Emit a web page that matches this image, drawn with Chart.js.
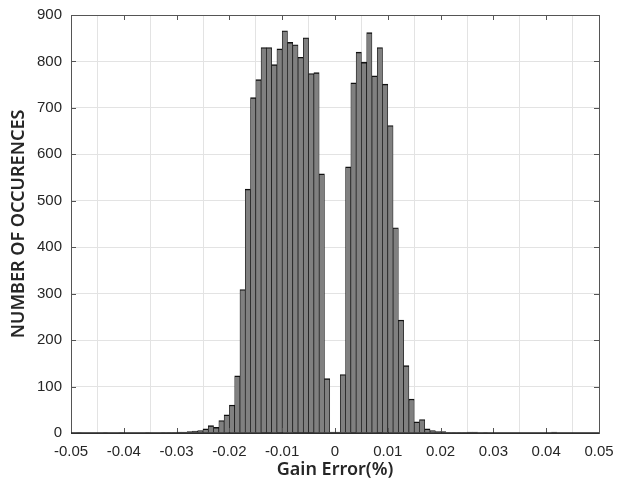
<!DOCTYPE html>
<html>
<head>
<meta charset="utf-8">
<script src="https://cdn.jsdelivr.net/npm/chart.js@4.4.1/dist/chart.umd.min.js"></script>
<style>
  html, body { margin: 0; padding: 0; background: #fff; }
  #wrap { width: 617px; height: 481px; }
</style>
</head>
<body>
<div id="wrap"><canvas id="chart"></canvas></div>
<script>
// histogram bins: left edge of the first bin and bin width (in %)
const binStart = -0.05
const binWidth = 0.001

// counts per bin (100 bins from -0.05 to 0.05)
const counts = [
  0, 1, 0, 0, 0, 0, 1, 0, 0, 1,
  0, 0, 0, 0, 1, 0, 0, 1, 1, 1,
  2, 2, 3, 4, 5, 9, 16, 12, 27, 39,
  60, 123, 309, 525, 722, 761, 830, 830, 793, 827,
  866, 841, 836, 809, 851, 774, 776, 558, 117, 2,
  2, 126, 573, 754, 820, 798, 862, 769, 830, 751,
  662, 442, 243, 145, 73, 24, 29, 9, 5, 3,
  3, 1, 1, 1, 1, 2, 2, 0, 1, 0,
  0, 0, 0, 0, 0, 0, 0, 0, 0, 0,
  0, 2, 0, 0, 0, 0, 0, 0, 0, 0
]

const xTicks = [-0.05, -0.04, -0.03, -0.02, -0.01, 0, 0.01, 0.02, 0.03, 0.04, 0.05]
const yTicks = [0, 100, 200, 300, 400, 500, 600, 700, 800, 900]

const points = counts.map((c, i) => ({ x: binStart + binWidth * (i + 0.5), y: c }))

const tickFont = { family: "'Liberation Sans', Arial, sans-serif", size: 15 }
const titleFont = { family: "'Noto Sans', sans-serif", size: 18, weight: "600" }

// box around the plot with inward ticks on all four sides
const frame = {
  id: "frame",
  afterDatasetsDraw(chart) {
    const { ctx, chartArea: a, scales: { x, y } } = chart
    const len = 5
    ctx.save()
    ctx.strokeStyle = "#555"
    ctx.lineWidth = 1
    ctx.beginPath()
    xTicks.forEach(v => {
      const px = Math.round(x.getPixelForValue(v)) + 0.5
      ctx.moveTo(px, a.bottom); ctx.lineTo(px, a.bottom - len)
      ctx.moveTo(px, a.top); ctx.lineTo(px, a.top + len)
    })
    yTicks.forEach(v => {
      const py = Math.round(y.getPixelForValue(v)) + 0.5
      ctx.moveTo(a.left, py); ctx.lineTo(a.left + len, py)
      ctx.moveTo(a.right, py); ctx.lineTo(a.right - len, py)
    })
    ctx.stroke()
    ctx.strokeRect(Math.round(a.left) + 0.5, Math.round(a.top) + 0.5,
      Math.round(a.right - a.left), Math.round(a.bottom - a.top))
    ctx.strokeStyle = "#222"
    ctx.lineWidth = 1.5
    ctx.beginPath()
    ctx.moveTo(a.left, a.bottom); ctx.lineTo(a.right, a.bottom)
    ctx.stroke()
    ctx.restore()
  }
}

new Chart(document.getElementById("chart"), {
  type: "bar",
  data: {
    datasets: [{
      data: points,
      backgroundColor: "#808080",
      borderColor: "#111",
      borderWidth: { top: 1.4, left: 0.7, right: 0.7, bottom: 0 },
      borderSkipped: false,
      barPercentage: 1,
      categoryPercentage: 1
    }]
  },
  options: {
    responsive: true,
    maintainAspectRatio: false,
    animation: false,
    layout: { padding: { top: 15, right: 18, left: 0, bottom: 0 } },
    plugins: { legend: { display: false }, tooltip: { enabled: false } },
    scales: {
      x: {
        type: "linear",
        offset: false,
        min: -0.05,
        max: 0.05,
        afterBuildTicks: s => { s.ticks = xTicks.map(v => ({ value: v })) },
        afterFit: s => { s.height = 48; s.paddingLeft = 0; s.paddingRight = 0 },
        grid: { color: "#e3e3e3", drawTicks: false },
        border: { display: false },
        ticks: {
          font: tickFont,
          color: "#262626",
          padding: 10,
          maxRotation: 0,
          callback: v => (Math.abs(v) < 1e-9 ? "0" : (Math.round(v * 100) / 100).toFixed(2))
        },
        title: {
          display: true,
          text: "Gain Error(%)",
          font: titleFont,
          color: "#262626",
          padding: { top: 0, bottom: 0 }
        }
      },
      y: {
        min: 0,
        max: 900,
        afterBuildTicks: s => { s.ticks = yTicks.map(v => ({ value: v })) },
        afterFit: s => { s.width = 71; s.paddingTop = 0; s.paddingBottom = 0 },
        grid: { color: "#e3e3e3", drawTicks: false },
        border: { display: false },
        ticks: { font: tickFont, color: "#262626", padding: 9 },
        title: {
          display: true,
          text: "NUMBER OF OCCURENCES",
          font: titleFont,
          color: "#262626",
          padding: { top: 8, bottom: 0 }
        }
      }
    }
  },
  plugins: [frame]
})
</script>
</body>
</html>
